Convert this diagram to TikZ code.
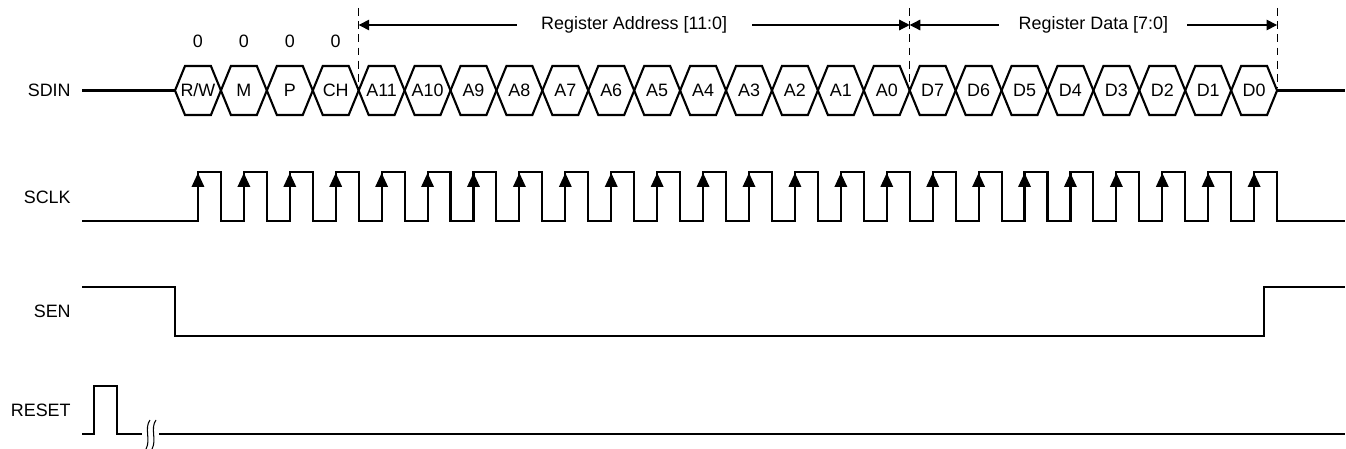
\documentclass[tikz,border=0pt]{standalone}
\usepackage{fontspec}
\setmainfont{Liberation Sans}
\usepackage{tikz}
\usetikzlibrary{arrows.meta}

\begin{document}
\begin{tikzpicture}[
    x=0.02cm, y=-0.02cm,
    font=\fontsize{10.2pt}{12pt}\selectfont,
    sig/.style={line width=1.2pt, line join=miter},
    lbl/.style={anchor=east, inner sep=0pt},
    guide/.style={line width=0.6pt, dash pattern=on 4.5pt off 3pt},
    fieldarr/.style={{Triangle[length=6pt,width=6pt]}-{Triangle[length=6pt,width=6pt]}, line width=0.7pt},
    fieldtxt/.style={fill=white, inner ysep=1pt},
  ]
    \useasboundingbox (0,0) rectangle (1346,449);

    % --- signal names ---
    \node[lbl] (sdin) at (71,90.5) {SDIN};
    \node[lbl] (sclk) at (71,197) {SCLK};
    \node[lbl] (sen) at (71,311) {SEN};
    \node[lbl] (reset) at (71,410) {RESET};

    % --- SDIN bits ---
    \draw[sig] (82,90.5) -- (175,90.5);
    \foreach \lab [count=\i from 0] in {{R/W},M,P,CH,A11,A10,A9,A8,A7,A6,A5,A4,A3,A2,A1,A0,D7,D6,D5,D4,D3,D2,D1,D0} {
      \pgfmathsetmacro\xa{175+\i*45.92}
      \pgfmathsetmacro\xb{\xa+45.92}
      \draw[sig] (\xa,90.5) -- (\xa+10,66) -- (\xb-10,66) -- (\xb,90.5) -- (\xb-10,115) -- (\xa+10,115) -- cycle;
      \node (b\i) at (\xa+22.96,90.5) {\lab};
    }
    \draw[sig] (1277.08,90.5) -- (1345,90.5);

    % first four bits
    \foreach \i in {0,...,3}
      \node (z\i) at (197.96+\i*45.92,41) {0};

    % --- field markers ---
    \coordinate (f0) at (358.68,25);
    \coordinate (f1) at (909.72,25);
    \coordinate (f2) at (1277.08,25);
    \draw[guide] (358.68,8) -- (358.68,88);
    \draw[guide] (909.72,8) -- (909.72,88);
    \draw[guide] (1277.08,8) -- (1277.08,88);
    \draw[fieldarr] (f0) -- node[fieldtxt, inner xsep=14pt] (regaddr) {Register Address [11:0]} (f1);
    \draw[fieldarr] (f1) -- node[fieldtxt, inner xsep=11pt] (regdata) {Register Data [7:0]} (f2);

    % --- SCLK ---
    \draw[sig] (82,221) \foreach \i in {0,...,23} {
        -- ({197.96+\i*45.92},221) -- ++(0,-49) -- ({175+(\i+1)*45.92},172) -- ++(0,49)
      } -- (1345,221);
    \foreach \i in {0,...,23}
      \fill ({197.96+\i*45.92},173) -- ++(-6.5,14) -- ++(13,0) -- cycle;

    % --- SEN ---
    \draw[sig] (82,287) -- (175,287) -- (175,336) -- (1264,336) -- (1264,287) -- (1345,287);

    % --- RESET ---
    \draw[sig] (82,434) -- (94,434) -- (94,386) -- (117,386) -- (117,434) -- (142,434);
    \draw[line width=0.6pt] (150,420) .. controls (144,428) and (151,440) .. (146,449);
    \draw[line width=0.6pt] (156,420) .. controls (150,428) and (157,440) .. (152,449);
    \draw[sig] (159,434) -- (1345,434);

\end{tikzpicture}
\end{document}
